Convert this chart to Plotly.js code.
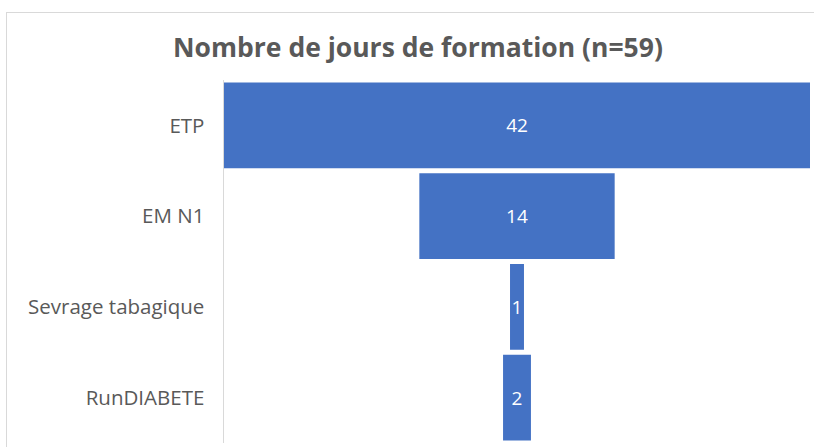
<!DOCTYPE html>
<html>
<head>
<meta charset="utf-8">
<script src="https://cdn.plot.ly/plotly-3.0.1.min.js"></script>
<style>
html,body{margin:0;padding:0;background:#fff;overflow:hidden;}
#frame{position:absolute;left:6px;top:12px;width:1000px;height:1000px;border:1.5px solid #d9d9d9;box-sizing:border-box;}
#chart{position:absolute;left:0;top:0;width:814px;height:447px;}
</style>
</head>
<body>
<div id="frame"></div>
<div id="chart"></div>
<script>
const categories = ["ETP", "EM N1", "Sevrage tabagique", "RunDIABETE"];
const values = [42, 14, 1, 2];
const chartTitle = "Nombre de jours de formation (n=59)";

const trace = {
  type: 'funnel',
  y: categories,
  x: values,
  orientation: 'h',
  textinfo: 'value',
  textposition: 'inside',
  constraintext: 'none',
  insidetextfont: {color: '#ffffff', size: 19, family: 'Open Sans, sans-serif'},
  marker: {color: '#4472c4', line: {width: 0}},
  connector: {visible: false},
  hoverinfo: 'none'
};

const layout = {
  width: 814,
  height: 447,
  paper_bgcolor: 'rgba(0,0,0,0)',
  plot_bgcolor: 'rgba(0,0,0,0)',
  margin: {l: 224, r: 4, t: 80, b: 4},
  showlegend: false,
  funnelgap: 0.054,
  title: {
    text: '<b>' + chartTitle + '</b>',
    font: {family: 'Open Sans, sans-serif', size: 26.5, color: '#595959'},
    xref: 'container', x: 0.5135, xanchor: 'center',
    yref: 'container', y: 0.893, yanchor: 'middle'
  },
  xaxis: {
    range: [-21, 21],
    visible: false,
    showgrid: false,
    zeroline: false
  },
  yaxis: {
    type: 'category',
    range: [3.5, -0.5],
    showline: true,
    linecolor: '#d9d9d9',
    linewidth: 1.5,
    showgrid: false,
    zeroline: false,
    ticks: '',
    ticklabelstandoff: 14,
    tickfont: {family: 'Open Sans, sans-serif', size: 20.5, color: '#595959'}
  }
};

Plotly.newPlot('chart', [trace], layout, {displayModeBar: false, staticPlot: true});
</script>
</body>
</html>
